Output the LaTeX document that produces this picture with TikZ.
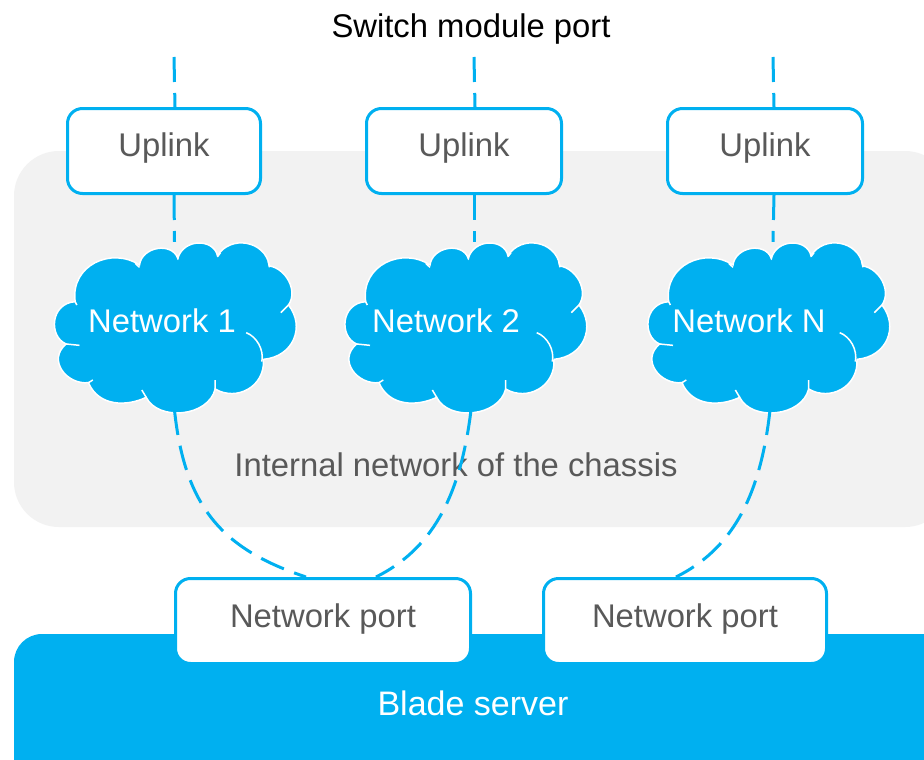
\documentclass[tikz,border=0pt]{standalone}
\usepackage{fontspec}
\setmainfont{Liberation Sans}
\usetikzlibrary{positioning}
\definecolor{netblue}{HTML}{00B0F0}
\definecolor{panelgrey}{HTML}{F2F2F2}
\definecolor{labelgrey}{HTML}{595959}
\tikzset{
	x = 1pt,
	y = -1pt,
	textfont/.style = {
		font = \fontsize{32.8}{38}\selectfont
	},
	portbox/.style = {
		draw = netblue,
		fill = white,
		line width = 3pt,
		rounded corners = 15pt,
		text = labelgrey,
		textfont,
		text height = 24pt,
		text depth = 11pt,
		anchor = north west
	},
	uplinkbox/.style = {
		portbox,
		text depth = 14pt
	},
	link/.style = {
		draw = netblue,
		line width = 3pt,
		dash pattern = on 25pt off 11pt
	},
	nettext/.style = {
		text = white,
		textfont
	},
	pics/netcloud/.style = {
		code = {
			\begin{scope}[scale = 1/3, shift = {(-403,-411)}]
				\path[fill = netblue, draw = white, line width = 1.5pt]
					(298,225) .. controls (305,170) and (395,155) .. (413,205)
					.. controls (430,145) and (520,145) .. (532,197)
					.. controls (570,135) and (675,150) .. (688,228)
					.. controls (735,235) and (775,300) .. (745,345)
					.. controls (796,410) and (760,500) .. (670,508)
					.. controls (675,590) and (590,635) .. (525,597)
					.. controls (505,680) and (355,695) .. (318,622)
					.. controls (260,650) and (175,650) .. (145,578)
					.. controls (80,585) and (20,510) .. (78,462)
					.. controls (25,440) and (30,340) .. (105,335)
					.. controls (90,225) and (215,170) .. (298,225) -- cycle;
				\draw[white, line width = 1.5pt]
					(298,232) -- (285,220)
					(413,208) -- (413,195)
					(532,200) -- (541,188)
					(688,232) -- (684,214)
					(722,368) -- (745,345)
					(618,428) .. controls (650,440) and (672,480) .. (665,515)
					(525,597) -- (525,570)
					(318,622) -- (305,600)
					(145,578) -- (158,570)
					(78,462) -- (118,466)
					(105,335) -- (110,345);
			\end{scope}
			\node[minimum width = 241pt, minimum height = 170pt, inner sep = 0pt] (-box) {};
		}
	}
}

\begin{document}
\begin{tikzpicture}
		\clip (0,0) rectangle (924,760);
		\fill[white] (0,0) rectangle (924,760);

		% chassis and server
		\fill[panelgrey, rounded corners = 45pt] (14,151) rectangle (950,527);
		\fill[netblue, rounded corners = 28pt] (14,634) rectangle (950,790);

		\node[text = labelgrey, textfont] (I) at (456,465) {Internal network of the chassis};
		\node[textfont] (S) at (471,29) {Switch module port};
		\node[nettext, font = \fontsize{34}{38}\selectfont] (B) at (473,703) {Blade server};

		\node[uplinkbox, minimum width = 193pt, minimum height = 85pt] (U1) at (66,107) {Uplink};
		\node[uplinkbox, minimum width = 195pt, minimum height = 85pt] (U2) at (365,107) {Uplink};
		\node[uplinkbox, minimum width = 195pt, minimum height = 85pt] (U3) at (666,107) {Uplink};

		\pic (C1) at (174.5,327) {netcloud};
		\pic (C2) at (465,327) {netcloud};
		\pic (C3) at (768,327) {netcloud};

		\node[nettext] (N1) at (162,321) {Network 1};
		\node[nettext] (N2) at (446,321) {Network 2};
		\node[nettext] (N3) at (749,321) {Network N};

		\coordinate (T1) at (174,57);
		\coordinate (T2) at (474,57);
		\coordinate (T3) at (773,57);

		\draw[link] (T1) -- ([xshift=11pt]U1.north);
		\draw[link] (T2) -- ([xshift=11pt]U2.north);
		\draw[link] (T3) -- ([xshift=9pt]U3.north);

		\draw[link] ([xshift=10pt]U1.south) -- (C1-box.north);
		\draw[link] ([xshift=10pt]U2.south) -- ([xshift=9pt]C2-box.north);
		\draw[link] ([xshift=9pt]U3.south) -- ([xshift=5pt]C3-box.north);

		\node[portbox, minimum width = 295pt, minimum height = 85pt] (P1) at (174,577) {Network port};
		\node[portbox, minimum width = 283pt, minimum height = 85pt] (P2) at (542,577) {Network port};

		\draw[link] ([yshift=2pt]C1-box.south) .. controls (185,510) and (225,550) .. ([xshift=-17pt]P1.north);
		\draw[link] ([xshift=6pt,yshift=2pt]C2-box.south) .. controls (460,500) and (430,550) .. ([xshift=53pt]P1.north);
		\draw[link] ([xshift=2pt,yshift=2pt]C3-box.south) .. controls (760,500) and (730,550) .. ([xshift=-9pt]P2.north);
	\end{tikzpicture}
\end{document}
